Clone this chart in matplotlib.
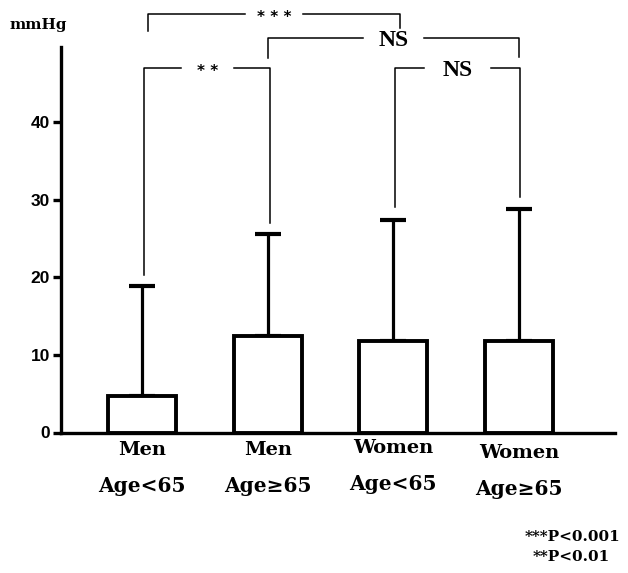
import matplotlib
matplotlib.use("Agg")
import matplotlib.pyplot as plt

# ---- data ----
categories = ["Men\nAge<65", "Men\nAge\u226565", "Women\nAge<65", "Women\nAge\u226565"]
means = [4.7, 12.45, 11.8, 11.8]
sds = [14.2, 13.2, 15.6, 17.0]
yticks = [0, 10, 20, 30, 40]
# comparisons: (left bar, right bar, label)
comparisons = [(0, 2, "***"), (0, 1, "**"), (1, 3, "NS"), (2, 3, "NS")]
footnotes = ["***P<0.001", "**P<0.01"]

W, H = 628, 573
fig = plt.figure(figsize=(W / 100, H / 100), dpi=100)
ax = fig.add_axes([61 / W, (H - 432.5) / H, (615 - 61) / W, (432.5 - 47) / H])

x = list(range(len(categories)))
ax.errorbar(x, means, yerr=[[0] * 4, sds], fmt="none", ecolor="black",
            elinewidth=2.3, capsize=9.5, capthick=3.0, zorder=2)
ax.bar(x, means, width=0.54, facecolor="white", edgecolor="black",
       linewidth=2.8, zorder=3)

ax.set_xlim(-0.644, 3.763)
ax.set_ylim(0, 49.7)
for s in ["top", "right"]:
    ax.spines[s].set_visible(False)
ax.spines["left"].set_linewidth(2.4)
ax.spines["bottom"].set_linewidth(2.4)
ax.set_xticks([])
ax.set_yticks(yticks)
ax.set_yticklabels([str(t) for t in yticks], fontfamily="Liberation Sans",
                   fontweight="bold", fontsize=12.5)
ax.tick_params(axis="y", length=6, width=2.4, pad=2)

# category labels
serif = "DejaVu Serif"
label_dy = [0, 0, 0.3, -0.4]
for i, c in enumerate(categories):
    top, bottom = c.split("\n")
    ax.text(i, -2.3 + label_dy[i], top, ha="center", va="center",
            fontfamily=serif, fontweight="bold", fontsize=14, clip_on=False)
    ax.text(i, -6.9 + label_dy[i] * 0.8, bottom, ha="center", va="center",
            fontfamily=serif, fontweight="bold", fontsize=14.5, clip_on=False)

# significance brackets
bracket_geom = {
    (0, 2): dict(y=53.9, lb=51.7, rb=52.2, gap=0.46, dx=0.05),
    (0, 1): dict(y=47.0, lb=20.3, rb=27.0, gap=0.42, dx=0.02),
    (1, 3): dict(y=50.8, lb=48.3, rb=48.4, gap=0.48, dx=0.0),
    (2, 3): dict(y=47.0, lb=29.1, rb=30.4, gap=0.54, dx=0.01),
}
for a, b, lab in comparisons:
    g = bracket_geom[(a, b)]
    xa, xb = a + g["dx"], b + g["dx"]
    xc = (xa + xb) / 2
    kw = dict(color="black", lw=1.1, clip_on=False, zorder=1)
    ax.plot([xa, xa, xc - g["gap"] / 2], [g["lb"], g["y"], g["y"]], **kw)
    ax.plot([xc + g["gap"] / 2, xb, xb], [g["y"], g["y"], g["rb"]], **kw)
    if lab.startswith("*"):
        ax.text(xc, g["y"] - 0.4, " ".join(lab), ha="center", va="center",
                fontfamily="DejaVu Sans", fontweight="bold", fontsize=11, clip_on=False)
    else:
        ax.text(xc, g["y"] - 0.3, lab, ha="center", va="center",
                fontfamily="Liberation Serif", fontweight="bold", fontsize=17, clip_on=False)

fig.text(38 / W, 1 - 25 / H, "mmHg", ha="center", va="center",
         fontfamily=serif, fontweight="bold", fontsize=11)
fig.text(573 / W, 1 - 537 / H, footnotes[0], ha="center", va="center",
         fontfamily=serif, fontweight="bold", fontsize=11)
fig.text(571 / W, 1 - 557 / H, footnotes[1], ha="center", va="center",
         fontfamily=serif, fontweight="bold", fontsize=11)

fig.savefig("out.png", dpi=100)
